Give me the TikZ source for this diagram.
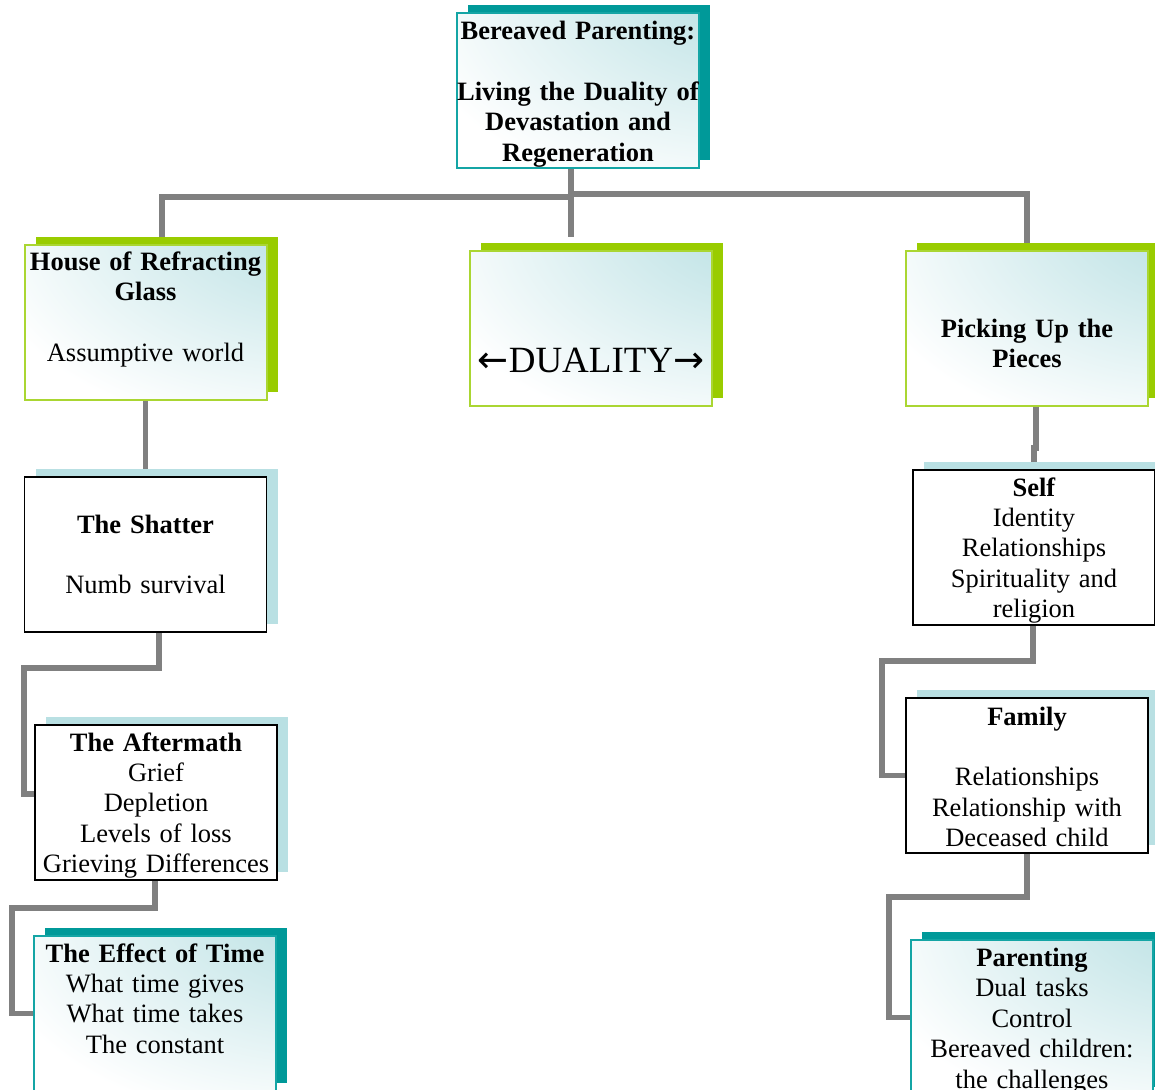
\documentclass[tikz,border=0pt]{standalone}
\usepackage{fontspec}
\setmainfont{Liberation Serif}
\newfontfamily\arrowfont{DejaVu Sans}
\usetikzlibrary{shadows,backgrounds}
\definecolor{glowc}{RGB}{185,224,227}
\definecolor{tealshadow}{RGB}{0,153,153}
\definecolor{tealline}{RGB}{20,165,165}
\definecolor{greenshadow}{RGB}{153,204,0}
\definecolor{greenline}{RGB}{170,214,50}
\definecolor{lightshadow}{RGB}{185,224,227}
\definecolor{linegray}{RGB}{128,128,128}
\pgfdeclareradialshading{cornerglow}{\pgfpoint{50bp}{50bp}}{color(0bp)=(glowc); color(16bp)=(glowc); color(64bp)=(white); color(150bp)=(white)}
\tikzset{
  conn/.style={draw=linegray, line width=5.5pt},
  box/.style={rectangle, minimum width=242pt, minimum height=155pt, inner sep=0pt, outer sep=0pt},
  glass/.style={box, shade, shading=cornerglow, line width=1.6pt},
  tealbox/.style={glass, draw=tealline, general shadow={shadow xshift=11pt, shadow yshift=8pt, fill=tealshadow, draw=none}},
  greenbox/.style={glass, draw=greenline, line width=2pt, general shadow={shadow xshift=11pt, shadow yshift=8pt, fill=greenshadow, draw=none}},
  plainbox/.style={box, fill=white, draw=black, line width=1.8pt, general shadow={shadow xshift=11pt, shadow yshift=8pt, fill=lightshadow, draw=none}},
  txt/.style={text width=262pt, align=center, inner sep=0pt, anchor=base, font=\fontsize{26.5}{30.4}\selectfont},
}
\begin{document}
\begin{tikzpicture}[x=1pt, y=-1pt]
\useasboundingbox (0,0) rectangle (1155,1089);
\clip (0,0) rectangle (1155,1089);
% boxes
\node[tealbox]  (top)    at (578,90.5)   {};
\node[greenbox] (house)  at (145.5,322.5) {};
\node[greenbox] (dual)   at (591,328.5)  {};
\node[greenbox] (pick)   at (1027,328.5) {};
\node[plainbox] (shat)   at (145.5,554.5) {};
\node[plainbox] (after)  at (156,802.5)  {};
\node[tealbox]  (effect) at (155,1013.5) {};
\node[plainbox] (self)   at (1034,547.5) {};
\node[plainbox] (fam)    at (1027,775.5) {};
\node[tealbox]  (par)    at (1032,1017.5) {};
% texts
\node[txt] (topT) at ([yshift=-26.5pt]top.north) {\textbf{Bereaved Parenting:}\\[30.4pt]\textbf{Living the Duality of}\\\textbf{Devastation and}\\\textbf{Regeneration}};
\node[txt] (houseT) at ([yshift=-25.5pt]house.north) {\textbf{House of Refracting}\\\textbf{Glass}\\[30.4pt]Assumptive world};
\node[anchor=base, inner sep=0pt, font=\fontsize{37}{40}\selectfont] (dualT) at ([yshift=-121pt]dual.north) {{\arrowfont ←}DUALITY{\arrowfont →}};
\node[txt] (pickT) at ([yshift=-86pt]pick.north) {\textbf{Picking Up the}\\\textbf{Pieces}};
\node[txt] (shatT) at ([yshift=-56pt]shat.north) {\textbf{The Shatter}\\[30.4pt]Numb survival};
\node[txt] (afterT) at ([yshift=-26pt]after.north) {\textbf{The Aftermath}\\Grief\\Depletion\\Levels of loss\\Grieving Differences};
\node[txt] (effectT) at ([yshift=-26pt]effect.north) {\textbf{The Effect of Time}\\What time gives\\What time takes\\The constant};
\node[txt] (selfT) at ([yshift=-26pt]self.north) {\textbf{Self}\\Identity\\Relationships\\Spirituality and\\religion};
\node[txt] (famT) at ([yshift=-27pt]fam.north) {\textbf{Family}\\[30.4pt]Relationships\\Relationship with\\Deceased child};
\node[txt] (parT) at ([yshift=-26.5pt]par.north) {\textbf{Parenting}\\Dual tasks\\Control\\Bereaved children:\\the challenges};
% connectors
\begin{scope}[on background layer]
\draw[conn] ([xshift=-7pt]top.south) -- ++(0,29) -| ([xshift=16.5pt]house.north);
\draw[conn] ([xshift=-7pt]top.south) -- ([xshift=-20pt,yshift=14pt]dual.north);
\draw[conn] ([xshift=-7pt]top.south) -- ++(0,26) -| (pick.north);
\draw[conn] (house.south) -- (shat.north);
\draw[conn] ([xshift=13.5pt]shat.south) -- ++(0,36) -- ++(-135,0) |- ([yshift=8.5pt]after.west);
\draw[conn] ([xshift=-1pt]after.south) -- ++(0,28) -- ++(-143,0) |- (effect.west);
\draw[conn] ([xshift=9pt]pick.south) -- ++(0,42) -- ++(-2,0) -- (self.north);
\draw[conn] ([xshift=-1pt]self.south) -- ++(0,36) -- ++(-151,0) |- (fam.west);
\draw[conn] (fam.south) -- ++(0,44) -- ++(-138,0) |- (par.west);
\end{scope}
\end{tikzpicture}
\end{document}
